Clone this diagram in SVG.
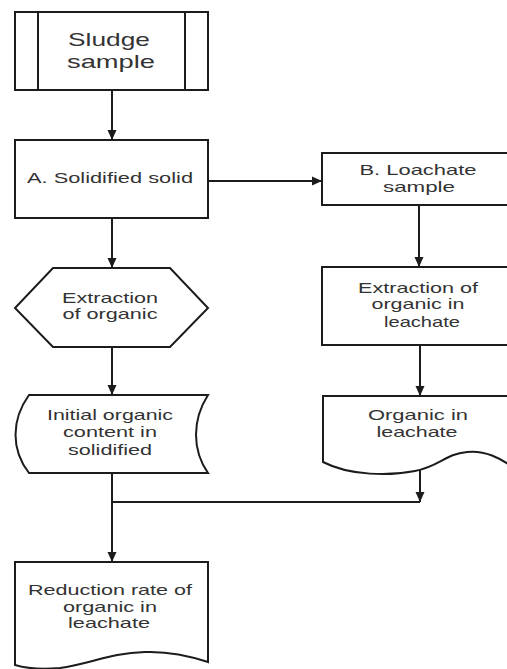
<svg xmlns="http://www.w3.org/2000/svg" width="507" height="669" viewBox="0 0 507 669">
<defs>
<style>
.s{fill:#fff;stroke:#1c1c1c;stroke-width:2}
.c{fill:none;stroke:#1c1c1c;stroke-width:2}
.t{font-family:"Liberation Sans",Arial,sans-serif;font-size:14.5px;fill:#333;text-anchor:middle}
.big{font-size:19px}
</style>
<marker id="ah" markerUnits="userSpaceOnUse" markerWidth="10" markerHeight="10" viewBox="0 0 10 10" refX="10" refY="5" orient="auto">
<path d="M0,0.5 L10,5 L0,9.5 Z" fill="#1c1c1c"/>
</marker>
</defs>
<rect width="507" height="669" fill="#fff"/>
<g id="connectors">
<line class="c" x1="112" y1="90" x2="112" y2="140" marker-end="url(#ah)"/>
<line class="c" x1="208" y1="181" x2="322" y2="181" marker-end="url(#ah)"/>
<line class="c" x1="112" y1="218" x2="112" y2="268" marker-end="url(#ah)"/>
<line class="c" x1="419" y1="205" x2="419" y2="267" marker-end="url(#ah)"/>
<line class="c" x1="112" y1="347" x2="112" y2="395" marker-end="url(#ah)"/>
<line class="c" x1="420" y1="345" x2="420" y2="396" marker-end="url(#ah)"/>
<line class="c" x1="420" y1="464" x2="420" y2="502" marker-end="url(#ah)"/>
<line class="c" x1="420" y1="502" x2="112" y2="502"/>
<line class="c" x1="112" y1="473" x2="112" y2="562" marker-end="url(#ah)"/>
</g>
<g id="sludge">
<rect class="s" x="15" y="12" width="193" height="78"/>
<line class="c" x1="38" y1="12" x2="38" y2="90"/>
<line class="c" x1="185" y1="12" x2="185" y2="90"/>
<text class="t big" x="109" y="46" textLength="82" lengthAdjust="spacingAndGlyphs">Sludge</text>
<text class="t big" x="111" y="68" textLength="88" lengthAdjust="spacingAndGlyphs">sample</text>
</g>
<g id="solidified">
<rect class="s" x="15" y="140" width="193" height="78"/>
<text class="t" x="110" y="183" textLength="166" lengthAdjust="spacingAndGlyphs">A. Solidified solid</text>
</g>
<g id="leachate-sample">
<rect class="s" x="322" y="153" width="192" height="52"/>
<text class="t" x="418" y="175" textLength="117" lengthAdjust="spacingAndGlyphs">B. Loachate</text>
<text class="t" x="419" y="192" textLength="72" lengthAdjust="spacingAndGlyphs">sample</text>
</g>
<g id="extraction-leachate">
<rect class="s" x="322" y="267" width="192" height="78"/>
<text class="t" x="418" y="293" textLength="120" lengthAdjust="spacingAndGlyphs">Extraction of</text>
<text class="t" x="418" y="309" textLength="93" lengthAdjust="spacingAndGlyphs">organic in</text>
<text class="t" x="422" y="327" textLength="76" lengthAdjust="spacingAndGlyphs">leachate</text>
</g>
<g id="organic-leachate">
<path class="s" d="M323,396 L514,396 L514,468 C500,458 485,450 467,452 C445,454 440,466 415,471 C390,476 350,476 323,462 Z"/>
<text class="t" x="418" y="420" textLength="100" lengthAdjust="spacingAndGlyphs">Organic in</text>
<text class="t" x="417" y="437" textLength="81" lengthAdjust="spacingAndGlyphs">leachate</text>
</g>
<g id="extraction-organic">
<path class="s" d="M53,268 L170,268 L208,308 L170,347 L53,347 L15,308 Z"/>
<text class="t" x="110" y="303" textLength="96" lengthAdjust="spacingAndGlyphs">Extraction</text>
<text class="t" x="110" y="319" textLength="95" lengthAdjust="spacingAndGlyphs">of organic</text>
</g>
<g id="initial-organic">
<path class="s" d="M29,395 L208,395 C192,420 192,450 208,473 L29,473 C11,450 11,420 29,395 Z"/>
<text class="t" x="110" y="420" textLength="126" lengthAdjust="spacingAndGlyphs">Initial organic</text>
<text class="t" x="110" y="437" textLength="94" lengthAdjust="spacingAndGlyphs">content in</text>
<text class="t" x="110" y="455" textLength="84" lengthAdjust="spacingAndGlyphs">solidified</text>
</g>
<g id="reduction">
<path class="s" d="M15,562 L208,562 L208,662 C190,656 170,651 145,652 C110,653 90,664 60,668 C40,670 25,668 15,665 Z"/>
<text class="t" x="110" y="595" textLength="164" lengthAdjust="spacingAndGlyphs">Reduction rate of</text>
<text class="t" x="110" y="612" textLength="94" lengthAdjust="spacingAndGlyphs">organic in</text>
<text class="t" x="109" y="628" textLength="82" lengthAdjust="spacingAndGlyphs">leachate</text>
</g>
</svg>
